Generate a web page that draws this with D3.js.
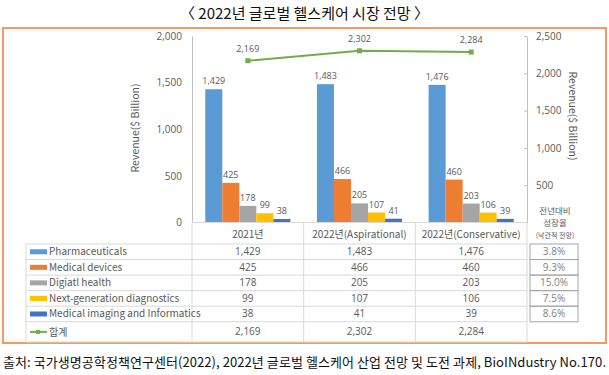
<!DOCTYPE html>
<html>
<head>
<meta charset="utf-8">
<script src="https://cdn.jsdelivr.net/npm/d3@7"></script>
<style>
    body { margin: 0; background: #fff; }
    text { font-family: "Noto Sans CJK KR", "Noto Sans", sans-serif; }
</style>
</head>
<body>
<div id="chart"></div>
<script>

// chart data
let categories = ["2021년", "2022년(Aspirational)", "2022년(Conservative)"];
let seriesNames = ["Pharmaceuticals", "Medical devices", "Digiatl health", "Next-generation diagnostics", "Medical imaging and Informatics"];
let seriesColors = ["#5B9BD5", "#ED7D31", "#A5A5A5", "#FFC000", "#4472C4"];
let pharmaValues = [1429, 1483, 1476];
let deviceValues = [425, 466, 460];
let digitalValues = [178, 205, 203];
let diagnosticValues = [99, 107, 106];
let imagingValues = [38, 41, 39];
let totalName = "합계";
let totalValues = [2169, 2302, 2284];
let growthRates = ["3.8%", "9.3%", "15.0%", "7.5%", "8.6%"];
let leftTicks = [0, 500, 1000, 1500, 2000];
let rightTicks = [500, 1000, 1500, 2000, 2500];

let seriesValues = [pharmaValues, deviceValues, digitalValues, diagnosticValues, imagingValues];

let width = 609, height = 375;
let grey = "#595959";
let numFont = "'Open Sans', sans-serif";

let svg = d3.select("#chart").append("svg")
    .attr("width", width)
    .attr("height", height);

svg.append("rect")
    .attr("width", width).attr("height", height)
    .attr("fill", "#fff");

// title
svg.append("text")
    .attr("x", width / 2)
    .attr("y", 19)
    .attr("text-anchor", "middle")
    .attr("font-size", 15)
    .attr("fill", "#111")
    .text("〈 2022년 글로벌 헬스케어 시장 전망 〉");

// orange frame
svg.append("rect")
    .attr("x", 3).attr("y", 28)
    .attr("width", 603).attr("height", 315)
    .attr("fill", "none")
    .attr("stroke", "#F39A63")
    .attr("stroke-width", 2);

// scales
let plot = {left: 192, right: 527, top: 36, bottom: 222.5};

let x = d3.scaleBand()
    .domain(categories)
    .range([plot.left, plot.right]);

let xSub = d3.scaleBand()
    .domain(seriesNames)
    .range([0, x.bandwidth()])
    .paddingOuter(0.78);

let yLeft = d3.scaleLinear()
    .domain([0, 2000])
    .range([plot.bottom, plot.top]);

let yRight = d3.scaleLinear()
    .domain([0, 2500])
    .range([plot.bottom, plot.top]);

// axes
let leftAxis = svg.append("g")
    .attr("transform", `translate(${plot.left},0)`)
    .call(d3.axisLeft(yLeft).tickValues(leftTicks).tickFormat(d3.format(",")).tickSize(0).tickPadding(10));

let rightAxis = svg.append("g")
    .attr("transform", `translate(${plot.right},0)`)
    .call(d3.axisRight(yRight).tickValues(rightTicks).tickFormat(d3.format(",")).tickSize(-3).tickSizeOuter(0).tickPadding(9));

[leftAxis, rightAxis].forEach(g => {
    g.select(".domain").attr("stroke", "#BFBFBF");
    g.selectAll(".tick line").attr("stroke", "#BFBFBF");
    g.selectAll(".tick text")
        .attr("fill", grey)
        .attr("font-size", 10)
        .style("font-family", numFont);
});

// axis titles
svg.append("text")
    .attr("transform", `translate(139, 128) rotate(-90)`)
    .attr("text-anchor", "middle")
    .attr("font-size", 10.5)
    .attr("fill", grey)
    .text("Revenue($ Billion)");

svg.append("text")
    .attr("transform", `translate(569, 116) rotate(90)`)
    .attr("text-anchor", "middle")
    .attr("font-size", 10.5)
    .attr("fill", grey)
    .text("Revenue($ Billion)");

// bars
let barData = [];
seriesNames.forEach((s, i) => {
    categories.forEach((c, j) => {
        barData.push({series: s, category: c, value: seriesValues[i][j], color: seriesColors[i]});
    });
});

svg.selectAll(".bar")
    .data(barData)
    .join("rect")
    .attr("class", "bar")
    .attr("x", d => x(d.category) + xSub(d.series))
    .attr("width", xSub.bandwidth())
    .attr("y", d => yLeft(d.value))
    .attr("height", d => plot.bottom - yLeft(d.value))
    .attr("fill", d => d.color);

svg.selectAll(".bar-label")
    .data(barData)
    .join("text")
    .attr("class", "bar-label")
    .attr("x", d => x(d.category) + xSub(d.series) + xSub.bandwidth() / 2)
    .attr("y", d => yLeft(d.value) - 5)
    .attr("text-anchor", "middle")
    .attr("font-size", 9)
    .attr("fill", grey)
    .style("font-family", numFont)
    .text(d => d3.format(",")(d.value));

// total line
let line = d3.line()
    .x((d, i) => x(categories[i]) + x.bandwidth() / 2)
    .y(d => yRight(d));

svg.append("path")
    .datum(totalValues)
    .attr("d", line)
    .attr("fill", "none")
    .attr("stroke", "#70AD47")
    .attr("stroke-width", 2);

svg.selectAll(".marker")
    .data(totalValues)
    .join("rect")
    .attr("class", "marker")
    .attr("x", (d, i) => x(categories[i]) + x.bandwidth() / 2 - 2.5)
    .attr("y", d => yRight(d) - 2.5)
    .attr("width", 5).attr("height", 5)
    .attr("fill", "#70AD47");

svg.selectAll(".total-label")
    .data(totalValues)
    .join("text")
    .attr("class", "total-label")
    .attr("x", (d, i) => x(categories[i]) + x.bandwidth() / 2)
    .attr("y", d => yRight(d) - 9)
    .attr("text-anchor", "middle")
    .attr("font-size", 9)
    .attr("fill", grey)
    .style("font-family", numFont)
    .text(d => d3.format(",")(d));

// data table
let tableLeft = 26;
let headerBottom = 244;
let rowH = 15.55;
let rowY = seriesNames.map((s, i) => headerBottom + i * rowH);
let totalRowTop = headerBottom + 5 * rowH;
let tableBottom = 342;
let lineColor = "#D9D9D9";

// horizontal rules
let hLines = rowY.concat([totalRowTop, tableBottom]);
svg.selectAll(".hrule")
    .data(hLines)
    .join("line")
    .attr("class", "hrule")
    .attr("x1", tableLeft).attr("x2", plot.right)
    .attr("y1", d => d).attr("y2", d => d)
    .attr("stroke", lineColor);

svg.append("line")
    .attr("x1", plot.left).attr("x2", plot.right)
    .attr("y1", plot.bottom).attr("y2", plot.bottom)
    .attr("stroke", lineColor);

// vertical rules
let vLines = categories.map(c => x(c)).concat([plot.right]);
svg.selectAll(".vrule")
    .data(vLines)
    .join("line")
    .attr("class", "vrule")
    .attr("x1", d => d).attr("x2", d => d)
    .attr("y1", plot.bottom).attr("y2", tableBottom)
    .attr("stroke", lineColor);

svg.append("line")
    .attr("x1", tableLeft).attr("x2", tableLeft)
    .attr("y1", headerBottom).attr("y2", tableBottom)
    .attr("stroke", lineColor);

// header labels
svg.selectAll(".cat-label")
    .data(categories)
    .join("text")
    .attr("class", "cat-label")
    .attr("x", d => x(d) + x.bandwidth() / 2)
    .attr("y", 238)
    .attr("text-anchor", "middle")
    .attr("font-size", 10)
    .attr("fill", grey)
    .text(d => d);

// series rows
seriesNames.forEach((s, i) => {
    let cy = rowY[i] + rowH / 2;
    svg.append("rect")
        .attr("x", 30).attr("y", cy - 2.5)
        .attr("width", 17).attr("height", 5)
        .attr("fill", seriesColors[i]);
    svg.append("text")
        .attr("x", 49).attr("y", cy + 3.5)
        .attr("font-size", 10)
        .attr("fill", grey)
        .text(s);
    categories.forEach((c, j) => {
        svg.append("text")
            .attr("x", x(c) + x.bandwidth() / 2)
            .attr("y", cy + 3.5)
            .attr("text-anchor", "middle")
            .attr("font-size", 10)
            .attr("fill", grey)
            .style("font-family", numFont)
            .text(d3.format(",")(seriesValues[i][j]));
    });
});

// total row
let totalCy = (totalRowTop + tableBottom) / 2;
svg.append("line")
    .attr("x1", 30).attr("x2", 47)
    .attr("y1", totalCy).attr("y2", totalCy)
    .attr("stroke", "#70AD47").attr("stroke-width", 2);
svg.append("rect")
    .attr("x", 36).attr("y", totalCy - 2)
    .attr("width", 4).attr("height", 4)
    .attr("fill", "#70AD47");
svg.append("text")
    .attr("x", 49).attr("y", totalCy + 4)
    .attr("font-size", 10)
    .attr("fill", grey)
    .text(totalName);
categories.forEach((c, j) => {
    svg.append("text")
        .attr("x", x(c) + x.bandwidth() / 2)
        .attr("y", totalCy + 3.5)
        .attr("text-anchor", "middle")
        .attr("font-size", 10)
        .attr("fill", grey)
        .style("font-family", numFont)
        .text(d3.format(",")(totalValues[j]));
});

// growth rate column
let gx = 530, gw = 48;
let growthHeader = [
    {text: "전년대비", y: 214, size: 8.5},
    {text: "성장율", y: 226, size: 8.5},
    {text: "(낙관적 전망)", y: 238, size: 7}
];
svg.selectAll(".growth-head")
    .data(growthHeader)
    .join("text")
    .attr("class", "growth-head")
    .attr("x", 555)
    .attr("y", d => d.y)
    .attr("text-anchor", "middle")
    .attr("font-size", d => d.size)
    .attr("fill", grey)
    .text(d => d.text);

growthRates.forEach((g, i) => {
    svg.append("rect")
        .attr("x", gx).attr("y", rowY[i])
        .attr("width", gw).attr("height", rowH)
        .attr("fill", "none")
        .attr("stroke", "#A6A6A6");
    svg.append("text")
        .attr("x", gx + gw / 2)
        .attr("y", rowY[i] + rowH / 2 + 3.5)
        .attr("text-anchor", "middle")
        .attr("font-size", 10)
        .attr("fill", "#7F7F7F")
        .style("font-family", numFont)
        .text(g);
});

// source
svg.append("text")
    .attr("x", 3)
    .attr("y", 367)
    .attr("font-size", 13)
    .attr("fill", "#111")
    .attr("textLength", 603)
    .attr("lengthAdjust", "spacing")
    .text("출처: 국가생명공학정책연구센터(2022), 2022년 글로벌 헬스케어 산업 전망 및 도전 과제, BioINdustry No.170.");

</script>
</body>
</html>
